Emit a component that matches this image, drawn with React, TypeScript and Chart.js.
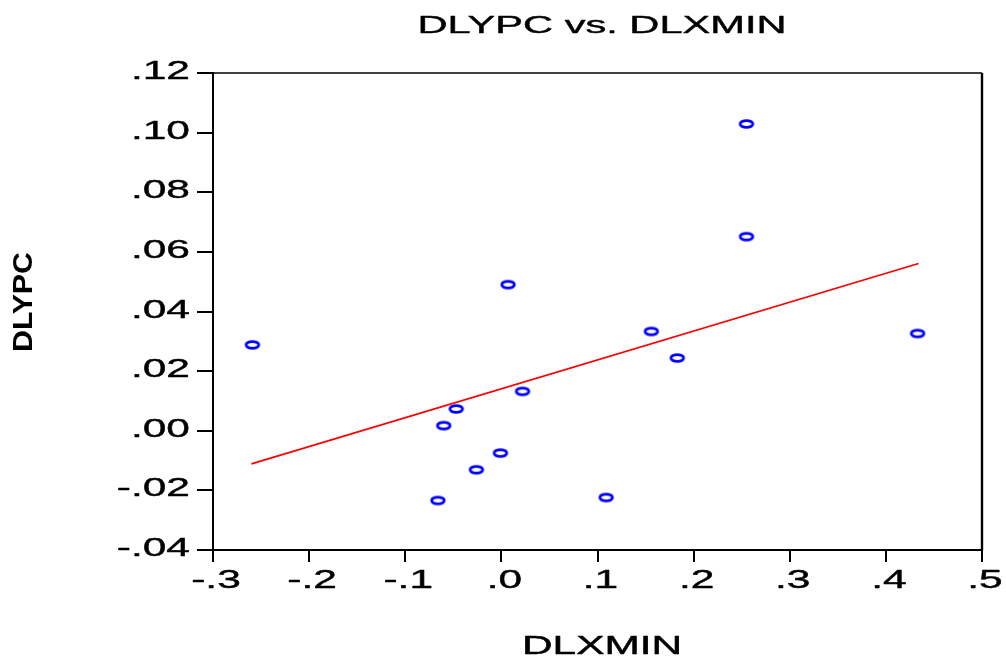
import React, { useEffect, useRef } from "react";
import { Chart, registerables } from "chart.js";

Chart.register(...registerables);

// ---- data ----
const dlxmin = [-0.259, 0.255, 0.255, 0.007, 0.156, 0.433, 0.183, 0.022, -0.047, -0.06, -0.001, -0.026, -0.066, 0.109];
const dlypc = [0.0288, 0.1029, 0.0651, 0.049, 0.0333, 0.0326, 0.0244, 0.0132, 0.0073, 0.0017, -0.0075, -0.0131, -0.0234, -0.0224];
const fitX = [-0.26, 0.434];
const fitY = [-0.0111, 0.0561];

const xTicks = [-0.3, -0.2, -0.1, 0, 0.1, 0.2, 0.3, 0.4, 0.5];
const xTickLabels = ["-.3", "-.2", "-.1", ".0", ".1", ".2", ".3", ".4", ".5"];
const yTicks = [-0.04, -0.02, 0, 0.02, 0.04, 0.06, 0.08, 0.1, 0.12];
const yTickLabels = ["-.04", "-.02", ".00", ".02", ".04", ".06", ".08", ".10", ".12"];

const titleText = "DLYPC vs. DLXMIN";
const xTitle = "DLXMIN";
const yTitle = "DLYPC";

const FONT = '"Liberation Sans", Arial, sans-serif';

function drawText(
  ctx: CanvasRenderingContext2D,
  text: string,
  x: number,
  y: number,
  size: number,
  opts: { sx?: number; width?: number; align?: CanvasTextAlign; rotate?: boolean; weight?: string; thick?: number }
) {
  ctx.save();
  ctx.font = `${opts.weight || "normal"} ${size}px ${FONT}`;
  ctx.fillStyle = "#000";
  ctx.strokeStyle = "#000";
  ctx.textBaseline = "alphabetic";
  ctx.textAlign = opts.align || "center";
  let sx = opts.sx || 1;
  if (opts.width) sx = opts.width / ctx.measureText(text).width;
  ctx.translate(x, y);
  if (opts.rotate) ctx.rotate(-Math.PI / 2);
  ctx.scale(sx, 1);
  ctx.fillText(text, 0, 0);
  if (opts.thick) {
    ctx.lineWidth = opts.thick;
    ctx.lineJoin = "round";
    ctx.strokeText(text, 0, 0);
  }
  ctx.restore();
}

function makeMarker(): HTMLCanvasElement {
  const c = document.createElement("canvas");
  c.width = 18;
  c.height = 12;
  const g = c.getContext("2d")!;
  g.strokeStyle = "#0000ff";
  g.lineWidth = 2.8;
  g.beginPath();
  g.ellipse(9, 6, 6.3, 3.4, 0, 0, Math.PI * 2);
  g.stroke();
  return c;
}

const textPlugin = {
  id: "eviewsText",
  afterDraw(chart: any) {
    const ctx: CanvasRenderingContext2D = chart.ctx;
    const area = chart.chartArea;
    const xs = chart.scales.x;
    const ys = chart.scales.y;
    // frame top & right
    ctx.save();
    ctx.strokeStyle = "#000";
    ctx.lineWidth = 1.4;
    ctx.beginPath();
    ctx.moveTo(area.left, area.top);
    ctx.lineTo(area.right, area.top);
    ctx.stroke();
    ctx.lineWidth = 2.4;
    ctx.beginPath();
    ctx.moveTo(area.right, area.top);
    ctx.lineTo(area.right, area.bottom);
    ctx.stroke();
    ctx.restore();

    // title
    drawText(ctx, titleText, 602, 33, 23, { width: 369, thick: 0.4 });
    // axis titles
    drawText(ctx, xTitle, 602, 654, 25, { width: 160, thick: 0.45 });
    drawText(ctx, yTitle, 31.5, 302, 28, { width: 100, rotate: true, weight: "bold" });

    // tick labels
    xTicks.forEach((v, i) => {
      const px = xs.getPixelForValue(v);
      drawText(ctx, xTickLabels[i], px + 3, 588, 25, { sx: 1.7, thick: 0.4 });
    });
    yTicks.forEach((v, i) => {
      const py = ys.getPixelForValue(v);
      drawText(ctx, yTickLabels[i], 190, py + 6, 25, { sx: 1.7, align: "right", thick: 0.4 });
    });
  },
};

export default function App() {
  const ref = useRef<HTMLCanvasElement | null>(null);
  useEffect(() => {
    if (!ref.current) return;
    const marker = makeMarker();
    const chart = new Chart(ref.current, {
      type: "scatter",
      data: {
        datasets: [
          {
            type: "line",
            label: "Fit",
            data: fitX.map((x, i) => ({ x, y: fitY[i] })),
            borderColor: "#ff0000",
            borderWidth: 1.8,
            pointRadius: 0,
            fill: false,
            order: 2,
          } as any,
          {
            label: "DLYPC",
            data: dlxmin.map((x, i) => ({ x, y: dlypc[i] })),
            pointStyle: marker as any,
            pointRadius: 6,
            order: 1,
          },
        ],
      },
      options: {
        responsive: false,
        animation: false,
        events: [],
        layout: { padding: { top: 73, right: 24, left: 0, bottom: 0 } },
        plugins: {
          legend: { display: false },
          title: { display: false },
          tooltip: { enabled: false },
        },
        scales: {
          x: {
            type: "linear",
            min: -0.3,
            max: 0.5,
            afterBuildTicks: (s: any) => {
              s.ticks = xTicks.map((v) => ({ value: v }));
            },
            afterFit: (s: any) => {
              s.height = 107;
            },
            ticks: { display: false },
            grid: {
              drawOnChartArea: false,
              drawTicks: true,
              tickLength: 12,
              color: "#000",
              lineWidth: 2,
            },
            border: { display: true, color: "#000", width: 2 },
          },
          y: {
            type: "linear",
            min: -0.04,
            max: 0.12,
            afterBuildTicks: (s: any) => {
              s.ticks = yTicks.map((v) => ({ value: v }));
            },
            afterFit: (s: any) => {
              s.width = 213;
            },
            ticks: { display: false },
            grid: {
              drawOnChartArea: false,
              drawTicks: true,
              tickLength: 16,
              color: "#000",
              lineWidth: 2,
            },
            border: { display: true, color: "#000", width: 2 },
          },
        },
      },
      plugins: [textPlugin],
    });
    return () => chart.destroy();
  }, []);

  return (
    <div style={{ position: "fixed", left: 0, top: 0, width: 1006, height: 657, background: "#fff" }}>
      <canvas ref={ref} width={1006} height={657} style={{ display: "block", width: 1006, height: 657 }} />
    </div>
  );
}
